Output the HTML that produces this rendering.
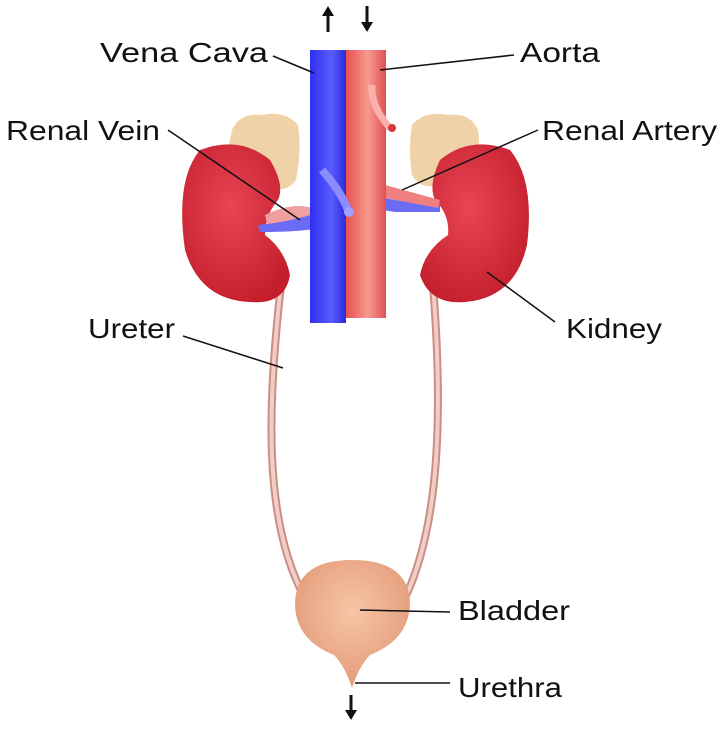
<!DOCTYPE html>
<html><head><style>
html,body{margin:0;padding:0;background:#fff;}
svg{display:block;}
text{font-family:"Liberation Sans",sans-serif;font-size:28px;fill:#111;}
</style></head><body>
<svg width="723" height="729" viewBox="0 0 723 729" xmlns="http://www.w3.org/2000/svg">
<defs>
<linearGradient id="vc" x1="0" x2="1"><stop offset="0" stop-color="#2f2ff0"/><stop offset=".6" stop-color="#5a5cff"/><stop offset="1" stop-color="#2a2ad8"/></linearGradient>
<linearGradient id="ao" x1="0" x2="1"><stop offset="0" stop-color="#e85050"/><stop offset=".55" stop-color="#f59a90"/><stop offset="1" stop-color="#e05050"/></linearGradient>
<radialGradient id="kd" cx=".45" cy=".4" r=".65"><stop offset="0" stop-color="#e84555"/><stop offset="1" stop-color="#c41e2c"/></radialGradient>
<radialGradient id="bl" cx=".5" cy=".4" r=".6"><stop offset="0" stop-color="#f6c6a6"/><stop offset="1" stop-color="#e39a78"/></radialGradient>
</defs>
<path d="M281 285 C268 400 262 520 305 598" fill="none" stroke="#c98f86" stroke-width="8"/>
<path d="M281 285 C268 400 262 520 305 598" fill="none" stroke="#f2cdc6" stroke-width="4"/>
<path d="M433 285 C442 400 442 520 405 598" fill="none" stroke="#c98f86" stroke-width="8"/>
<path d="M433 285 C442 400 442 520 405 598" fill="none" stroke="#f2cdc6" stroke-width="4"/>
<path d="M232 130 Q240 112 262 115 Q285 110 298 125 Q302 150 296 180 Q285 195 270 185 Q250 160 228 150 Z" fill="#f0d2a8"/>
<path d="M412 125 Q425 110 448 115 Q470 112 478 130 Q482 150 470 160 Q455 170 440 185 Q420 190 412 175 Q408 150 412 125 Z" fill="#f0d2a8"/>
<path d="M200 150 Q240 135 270 160 Q285 185 278 200 Q265 215 265 235 Q285 250 290 275 Q285 305 250 302 Q200 300 185 250 Q175 180 200 150 Z" fill="url(#kd)"/>
<path d="M510 150 Q470 135 440 160 Q428 185 435 200 Q450 215 448 235 Q425 250 420 275 Q430 305 465 302 Q515 298 527 245 Q535 180 510 150 Z" fill="url(#kd)"/>
<path d="M265 215 Q295 200 318 210 L320 224 Q295 215 268 228 Z" fill="#f0a0a0"/>
<path d="M258 225 Q290 222 320 212 L320 228 Q300 232 260 232 Z" fill="#6b6cf5"/>
<path d="M345 160 Q355 195 395 200 L440 205 L440 212 L395 212 Q345 205 340 180 Z" fill="#6b6cf5"/>
<path d="M385 185 L440 200 L438 208 L385 198 Z" fill="#f08080"/>
<rect x="310" y="50" width="36" height="273" fill="url(#vc)"/>
<rect x="346" y="50" width="40" height="268" fill="url(#ao)"/>
<path d="M322 170 Q340 190 348 210" stroke="#8a8cff" stroke-width="8" fill="none"/>
<circle cx="349" cy="212" r="5" fill="#9ea0ff"/>
<path d="M372 85 Q370 105 390 128" stroke="#f8b0a8" stroke-width="7" fill="none"/>
<circle cx="392" cy="128" r="4" fill="#d83838"/>
<path d="M352 560 Q410 560 410 605 Q408 640 370 655 Q358 668 352 688 Q346 668 334 655 Q296 640 295 605 Q295 560 352 560 Z" fill="url(#bl)"/>
<g stroke="#111" stroke-width="3" fill="#111">
<line x1="328" y1="32" x2="328" y2="14"/><path d="M322 16 L328 6 L334 16 Z" stroke="none"/>
<line x1="367" y1="6" x2="367" y2="24"/><path d="M361 22 L367 32 L373 22 Z" stroke="none"/>
<line x1="351" y1="695" x2="351" y2="712"/><path d="M345 710 L351 720 L357 710 Z" stroke="none"/>
</g>
<g stroke="#111" stroke-width="1.5">
<line x1="273" y1="56" x2="314" y2="73"/>
<line x1="514" y1="55" x2="380" y2="70"/>
<line x1="168" y1="130" x2="300" y2="220"/>
<line x1="538" y1="130" x2="402" y2="190"/>
<line x1="555" y1="322" x2="487" y2="272"/>
<line x1="183" y1="336" x2="283" y2="368"/>
<line x1="450" y1="612" x2="360" y2="610"/>
<line x1="450" y1="683" x2="355" y2="683"/>
</g>
<text x="100" y="62" textLength="168" lengthAdjust="spacingAndGlyphs">Vena Cava</text>
<text x="520" y="62" textLength="80" lengthAdjust="spacingAndGlyphs">Aorta</text>
<text x="6" y="140" textLength="154" lengthAdjust="spacingAndGlyphs">Renal Vein</text>
<text x="542" y="140" textLength="175" lengthAdjust="spacingAndGlyphs">Renal Artery</text>
<text x="566" y="338" textLength="96" lengthAdjust="spacingAndGlyphs">Kidney</text>
<text x="88" y="338" textLength="87" lengthAdjust="spacingAndGlyphs">Ureter</text>
<text x="458" y="620" textLength="112" lengthAdjust="spacingAndGlyphs">Bladder</text>
<text x="458" y="697" textLength="104" lengthAdjust="spacingAndGlyphs">Urethra</text>
</svg>
</body></html>
